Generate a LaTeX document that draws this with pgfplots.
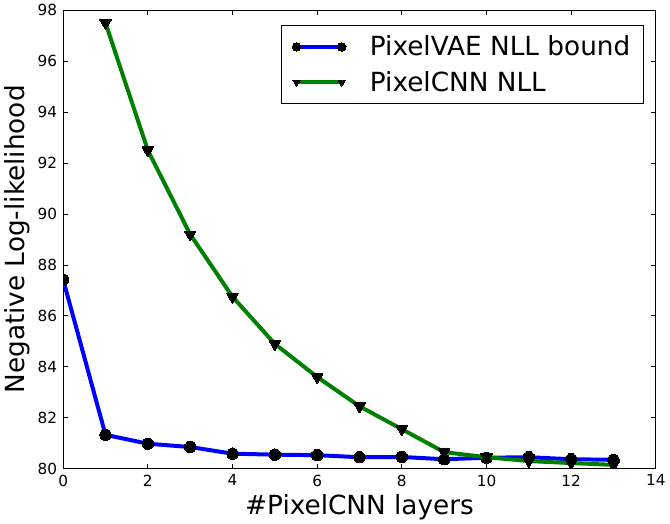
\documentclass[border=0pt]{standalone}
\usepackage{fontspec}
\setmainfont{DejaVu Sans}
\usepackage{pgfplots}
\pgfplotsset{compat=1.18}

\definecolor{mplblue}{rgb}{0,0,1}
\definecolor{mplgreen}{rgb}{0,0.5,0}

\begin{document}
\begin{tikzpicture}
\begin{axis}[
    scale only axis,
    width=446pt, height=345pt,
    xmin=0, xmax=14, ymin=80, ymax=98,
    xtick={0,2,...,14}, ytick={80,82,...,98},
    tick align=inside, tick pos=both,
    major tick length=3.5pt,
    tick style={black, line width=0.6pt},
    axis line style={black, line width=0.8pt},
    /pgf/number format/assume math mode=true,
    ticklabel style={font=\fontsize{11.5}{13}\selectfont},
    xticklabel style={yshift=-1pt},
    yticklabel style={xshift=-1pt},
    label style={font=\fontsize{19.8}{23}\selectfont},
    xlabel={\#PixelCNN layers},
    ylabel={Negative Log-likelihood},
    xlabel style={yshift=1pt},
    ylabel style={yshift=-1pt},
    clip marker paths=true,
    legend style={at={(0.980,0.968)}, anchor=north east, draw=black,
        line width=0.6pt,
        font=\fontsize{19.8}{23}\selectfont, cells={anchor=west},
        inner xsep=8pt, inner ysep=6pt, row sep=6pt},
    legend image code/.code={
        \draw[#1, mark size=3.2pt] plot coordinates {(0pt,0pt) (34pt,0pt)};
    },
]
\addplot[mplblue, line width=3pt, mark=*, mark size=4.3pt,
    mark options={black, fill=black, line width=0pt}] coordinates {
(0,87.42) (1,81.33) (2,80.98) (3,80.85) (4,80.59) (5,80.55) (6,80.53)
(7,80.45) (8,80.46) (9,80.37) (10,80.43) (11,80.45) (12,80.37) (13,80.35)
};
\addlegendentry{\hspace{16pt}PixelVAE NLL bound}
\addplot[mplgreen, line width=3pt, mark=triangle*, mark size=5pt,
    mark options={black, fill=black, line width=0pt, rotate=180}] coordinates {
(1,97.5) (2,92.5) (3,89.2) (4,86.75) (5,84.9) (6,83.6) (7,82.45)
(8,81.55) (9,80.65) (10,80.45) (11,80.3) (12,80.22) (13,80.15)
};
\addlegendentry{\hspace{16pt}PixelCNN NLL}
\end{axis}
\end{tikzpicture}
\end{document}
